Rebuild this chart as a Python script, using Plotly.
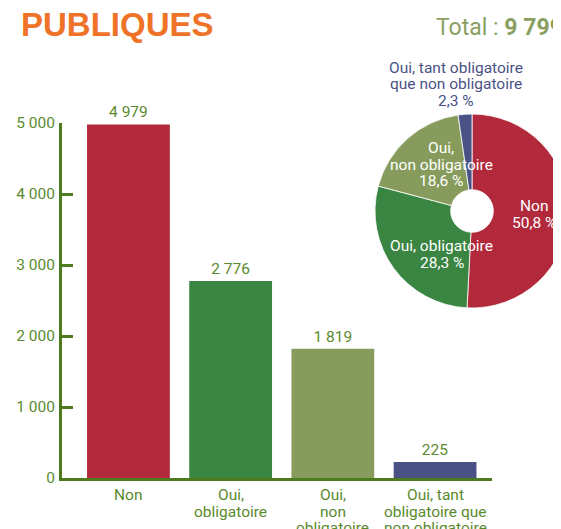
import plotly.graph_objects as go

categories = ["Non", "Oui,<br>obligatoire", "Oui,<br>non<br>obligatoire",
              "Oui, tant<br>obligatoire que<br>non obligatoire"]
pie_labels = ["Non", "Oui, obligatoire", "Oui,<br>non obligatoire",
              "Oui, tant obligatoire<br>que non obligatoire"]
values = [4979, 2776, 1819, 225]
colors = ["#B1293B", "#398541", "#879C5C", "#4A5285"]
y_ticks = [0, 1000, 2000, 3000, 4000, 5000]
total = 9799

W, H = 561, 529
OFF = 8  # page offset of the figure inside the browser window
axis_col = "#4F7B1F"
txt_col = "#5B8A2E"
font = "Roboto"
FS = 15.5


def fx(px):
    return (px - OFF) / W


def fy(py):
    return 1 - (py - OFF) / H


def pct(v):
    return f"{100 * v / sum(values):.1f}".replace(".", ",") + " %"


fig = go.Figure()
fig.add_trace(go.Bar(
    x=list(range(len(categories))), y=values,
    marker=dict(color=colors, line=dict(width=0)),
    text=[f"{v:,}".replace(",", " ") for v in values],
    textposition="outside", cliponaxis=False,
    textfont=dict(family=font, size=FS, color=txt_col),
    width=0.81, showlegend=False,
))

# pie (screen centre ~ (472, 211))
cx, cy, r = 472, 211, 97
fig.add_trace(go.Pie(
    values=values, labels=[l.replace("<br>", " ") for l in pie_labels],
    sort=False, direction="clockwise",
    rotation=0, hole=0.22, textinfo="none", showlegend=False,
    marker=dict(colors=colors, line=dict(color="white", width=0.8)),
    domain=dict(x=[fx(cx - r), min(1, fx(cx + r))],
                y=[fy(cy + r), fy(cy - r)]),
))

fig.update_layout(
    width=W, height=H,
    margin=dict(l=0, r=0, t=0, b=0),
    paper_bgcolor="white", plot_bgcolor="white",
    separators=", ",
    font=dict(family=font, color=txt_col),
    xaxis=dict(
        domain=[fx(62), fx(492)], range=[-0.65, 3.557],
        tickvals=list(range(len(categories))), ticktext=[""] * len(categories),
        showline=True, linecolor=axis_col, linewidth=3,
        ticks="", showgrid=False, zeroline=False,
        automargin=False,
    ),
    yaxis=dict(
        domain=[fy(478), fy(123)], range=[0, 5000],
        tickvals=y_ticks, separatethousands=True,
        showline=True, linecolor=axis_col, linewidth=3,
        ticks="inside", ticklen=11, tickwidth=3, tickcolor=axis_col,
        showgrid=False, zeroline=False,
        tickfont=dict(family=font, size=FS, color=txt_col),
        ticklabelstandoff=1,
        automargin=False,
    ),
)

annotations = [
    dict(x=fx(19), y=fy(24.5), xref="paper", yref="paper", xanchor="left", yanchor="middle",
         text="<b>PUBLIQUES</b>", showarrow=False,
         font=dict(family="Liberation Sans", size=33, color="#EE7329")),
    dict(x=fx(434), y=fy(27.5), xref="paper", yref="paper", xanchor="left", yanchor="middle",
         text=f"Total : <b>{total:,}</b>".replace(",", " "), showarrow=False,
         font=dict(family=font, size=23, color="#8AA062")),
]

LS = 16.5  # line spacing of the source's labels


def add_lines(text, x, y_first, color, xref="paper", size=FS):
    for j, line in enumerate(text.split("<br>")):
        annotations.append(dict(
            x=x, y=fy(y_first + j * LS), xref=xref, yref="paper",
            xanchor="center", yanchor="middle", text=line, showarrow=False,
            font=dict(family=font, size=size, color=color),
        ))


# category labels under the bars (first line centre at y≈494)
for i, cat in enumerate(categories):
    add_lines(cat, i, 495, txt_col, xref="x")

# pie labels: (x centre, first-line centre y)
pie_pos = [(534, 206), (442, 246), (441, 148), (456, 68)]
for i, (px, py) in enumerate(pie_pos):
    col = "white" if i < 3 else "#4A5285"
    add_lines(f"{pie_labels[i]}<br>{pct(values[i])}", fx(px), py, col)

fig.update_layout(annotations=annotations)

fig.write_html("out.html")
